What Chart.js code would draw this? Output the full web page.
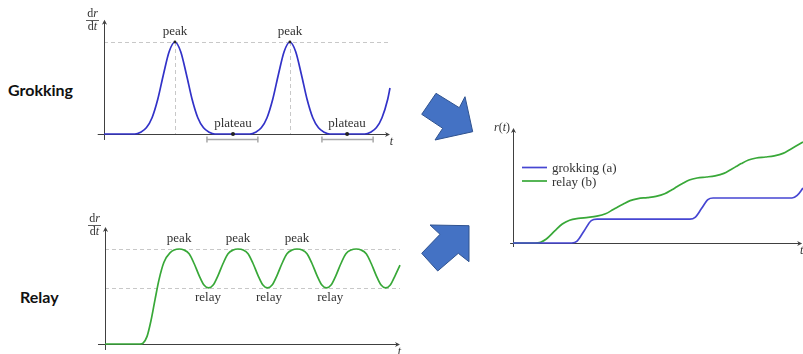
<!DOCTYPE html>
<html><head><meta charset="utf-8">
<script src="https://cdn.jsdelivr.net/npm/chart.js@4.4.1/dist/chart.umd.min.js"></script>
<style>
html,body{margin:0;padding:0;background:#fff;}
#wrap{position:relative;width:803px;height:354px;overflow:hidden;background:#fff;}
canvas{position:absolute;}
.side{position:absolute;font:700 16px Lato,'Open Sans',sans-serif;line-height:16px;color:#111;white-space:nowrap;}
svg{position:absolute;left:0;top:0;}
</style></head><body>
<div id="wrap">
<div class="side" style="left:8px;top:82px">Grokking</div>
<div class="side" style="left:20px;top:289px">Relay</div>
<canvas id="c1" width="410" height="180" style="left:0;top:0;width:410px;height:180px"></canvas>
<canvas id="c2" width="410" height="164" style="left:0;top:190px;width:410px;height:164px"></canvas>
<canvas id="c3" width="313" height="160" style="left:490px;top:110px;width:313px;height:160px"></canvas>
<svg width="803" height="354">
<polygon points="421.7,114.3 436,93.3 459.3,107.7 465,96.7 472.7,131.7 435,140 442.7,128.3" fill="#4472C4" stroke="#2F528F" stroke-width="1"/>
<polygon points="421.7,253.3 440,234.3 430,225 469,225.7 469,261.7 458.3,253.3 437.7,271" fill="#4472C4" stroke="#2F528F" stroke-width="1"/>
</svg>
</div>
<script>
// ---------- data ----------
// Grokking: dr/dt
const grokT = [0,1.08,1.28,1.48,1.68,1.88,2.08,2.28,2.48,2.68,2.88,3.08,3.28,3.48,3.68,3.88,5.10,5.30,5.50,5.70,5.90,6.10,6.30,6.50,6.70,6.90,7.10,7.30,7.50,7.70,7.90,9.12,9.32,9.52,9.72,9.92,10.0];
const grokV = [0,0,0.02,0.067,0.177,0.378,0.65,0.897,1,0.897,0.65,0.378,0.177,0.067,0.02,0,0,0.02,0.067,0.177,0.378,0.65,0.897,1,0.897,0.65,0.378,0.177,0.067,0.02,0,0,0.02,0.067,0.177,0.378,0.50];
const grokPeakT = [2.48, 6.50];
const plateauMidT = [4.51, 8.50];
const plateauStartT = [3.60, 7.62];
const plateauEndT = [5.38, 9.41];

// Relay: dr/dt
const relayT = [0,1.22,1.33,1.47,1.61,1.75,1.89,2.06,2.27,2.59,
  2.76,2.94,3.11,3.29,3.46,3.62,3.78,3.95,4.13,4.30,4.48,4.65,
  4.83,5.00,5.17,5.35,5.52,5.68,5.84,6.01,6.19,6.36,6.54,6.71,
  6.89,7.06,7.23,7.41,7.58,7.74,7.90,8.07,8.25,8.42,8.60,8.78,
  8.95,9.13,9.30,9.48,9.65,9.81,9.97,10.14,10.31];
const relayV = [0,0,0.01,0.08,0.25,0.47,0.68,0.86,0.96,1.00,
  0.99,0.95,0.85,0.72,0.62,0.59,0.62,0.72,0.85,0.95,0.99,1.00,
  0.99,0.95,0.85,0.72,0.62,0.59,0.62,0.72,0.85,0.95,0.99,1.00,
  0.99,0.95,0.85,0.72,0.62,0.59,0.62,0.72,0.85,0.95,0.99,1.00,
  0.99,0.95,0.85,0.72,0.62,0.59,0.62,0.72,0.83];
const relayLevel = 0.59;
const relayPeakLabelT = [2.59, 4.65, 6.71];
const relayLabelT = [3.60, 5.73, 7.87];

// r(t)
const cumGrokT = [0,2.03,2.20,2.45,2.70,2.90,6.10,6.28,6.50,6.72,6.90,9.62,9.80,10.0];
const cumGrokV = [0,0,0.08,0.60,1.12,1.19,1.19,1.28,1.72,2.17,2.25,2.25,2.38,2.75];
const cumRelayT = [0,0.76,0.95,1.15,1.45,1.70,1.95,2.25,2.59,
  2.89,3.19,3.44,3.61,3.79,4.04,4.31,4.63,
  4.93,5.23,5.48,5.65,5.83,6.08,6.35,6.67,
  6.97,7.27,7.52,7.69,7.87,8.12,8.39,8.71,
  9.01,9.31,9.56,9.73,10.0];
const cumRelayV = [0,0,0.04,0.20,0.62,0.95,1.14,1.23,1.28,
  1.34,1.46,1.66,1.80,1.94,2.12,2.22,2.27,
  2.33,2.46,2.66,2.81,2.96,3.15,3.25,3.30,
  3.36,3.48,3.68,3.82,3.97,4.15,4.25,4.30,
  4.36,4.48,4.68,4.82,5.05];
const seriesNames = ['grokking (a)', 'relay (b)'];

// ---------- helpers ----------
const BLUE = '#3232c8', BLUE2 = '#4646d2', GREEN = '#38a838';
const TXT = '#333', AX = '#404040', DASH = '#c8c8c8';
const SERIF = "'Liberation Serif','DejaVu Serif',serif";
function fnt(size, it){ return (it?'italic ':'') + size + 'px ' + SERIF; }
function pts(xs, ys){ return xs.map((x,i)=>({x:x, y:ys[i]})); }
function mixed(ctx, parts, cx, base, size, align){
  const w = parts.map(p=>{ctx.font=fnt(size,p[1]); return ctx.measureText(p[0]).width;});
  const tot = w.reduce((a,b)=>a+b,0);
  let x = align==='left'? cx : align==='right'? cx-tot : cx-tot/2;
  ctx.textAlign='left'; ctx.textBaseline='alphabetic'; ctx.fillStyle=TXT;
  parts.forEach((p,i)=>{ctx.font=fnt(size,p[1]); ctx.fillText(p[0], x, base); x+=w[i];});
  return tot;
}
function axes(chart, xa, xb, ya, yb){
  const ctx = chart.ctx, X = chart.scales.x, Y = chart.scales.y;
  const y0 = Math.round(Y.getPixelForValue(0))+0.5;
  const x0 = Math.round(X.getPixelForValue(0))+0.5;
  const xs = X.getPixelForValue(xa), xe = X.getPixelForValue(xb);
  const ys = Y.getPixelForValue(ya), ye = Y.getPixelForValue(yb);
  ctx.save();
  ctx.strokeStyle = AX; ctx.fillStyle = AX; ctx.lineWidth = 1; ctx.setLineDash([]);
  ctx.beginPath(); ctx.moveTo(xs, y0); ctx.lineTo(xe-2, y0); ctx.stroke();
  ctx.beginPath(); ctx.moveTo(x0, ys); ctx.lineTo(x0, ye+2); ctx.stroke();
  ctx.beginPath(); ctx.moveTo(xe, y0); ctx.lineTo(xe-5, y0-2.6); ctx.lineTo(xe-3.5, y0); ctx.lineTo(xe-5, y0+2.6); ctx.closePath(); ctx.fill();
  ctx.beginPath(); ctx.moveTo(x0, ye); ctx.lineTo(x0-2.6, ye+5); ctx.lineTo(x0, ye+3.5); ctx.lineTo(x0+2.6, ye+5); ctx.closePath(); ctx.fill();
  ctx.restore();
  return {x0, y0, xe, ye};
}
function dashH(chart, v, xa, xb){
  const ctx = chart.ctx, X = chart.scales.x, Y = chart.scales.y;
  const y = Math.round(Y.getPixelForValue(v))+0.5;
  ctx.save(); ctx.strokeStyle = DASH; ctx.lineWidth = 1; ctx.setLineDash([4,3]);
  ctx.beginPath(); ctx.moveTo(X.getPixelForValue(xa), y); ctx.lineTo(X.getPixelForValue(xb), y); ctx.stroke(); ctx.restore();
}
function dashV(chart, t, va, vb){
  const ctx = chart.ctx, X = chart.scales.x, Y = chart.scales.y;
  const x = Math.round(X.getPixelForValue(t))+0.5;
  ctx.save(); ctx.strokeStyle = DASH; ctx.lineWidth = 1; ctx.setLineDash([4,3]);
  ctx.beginPath(); ctx.moveTo(x, Y.getPixelForValue(va)); ctx.lineTo(x, Y.getPixelForValue(vb)); ctx.stroke(); ctx.restore();
}
function dr_dt(ctx, cx, lineY){
  mixed(ctx, [['d',false],['r',true]], cx, lineY-3, 12);
  ctx.save(); ctx.strokeStyle = TXT; ctx.lineWidth = 0.8;
  ctx.beginPath(); ctx.moveTo(cx-6.5, lineY+0.5); ctx.lineTo(cx+6.5, lineY+0.5); ctx.stroke(); ctx.restore();
  mixed(ctx, [['d',false],['t',true]], cx, lineY+10, 12);
}
function baseOpts(pad, xmin, xmax, ymin, ymax){
  return {
    responsive:false, animation:false, devicePixelRatio:1,
    layout:{padding:pad},
    plugins:{legend:{display:false}, tooltip:{enabled:false}, title:{display:false}},
    scales:{ x:{type:'linear', display:false, min:xmin, max:xmax}, y:{type:'linear', display:false, min:ymin, max:ymax} },
    elements:{point:{radius:0}}
  };
}
function ds(data, color, label){
  return {label:label, data:data, borderColor:color, borderWidth:1.7, cubicInterpolationMode:'monotone', pointRadius:0, fill:false, clip:false};
}

// ---------- chart 1: grokking ----------
new Chart(document.getElementById('c1'), {
  type:'line',
  data:{datasets:[ds(pts(grokT, grokV), BLUE, 'dr/dt')]},
  options: baseOpts({left:104, right:20, top:42, bottom:46}, 0, 10, 0, 1),
  plugins:[{
    id:'g1',
    beforeDatasetsDraw(chart){
      dashH(chart, 1, 0, 10);
      grokPeakT.forEach(t=>dashV(chart, t, 1, 0));
      axes(chart, -0.22, 10, -0.065, 1.243);
    },
    afterDatasetsDraw(chart){
      const ctx = chart.ctx, X = chart.scales.x, Y = chart.scales.y;
      const y0 = Y.getPixelForValue(0), y1 = Y.getPixelForValue(1);
      ctx.save();
      ctx.fillStyle = '#222';
      grokPeakT.forEach(t=>{ ctx.beginPath(); ctx.arc(X.getPixelForValue(t), y1, 1.4, 0, Math.PI*2); ctx.fill(); });
      plateauMidT.forEach(t=>{ ctx.beginPath(); ctx.arc(X.getPixelForValue(t), y0, 2, 0, Math.PI*2); ctx.fill(); });
      ctx.strokeStyle = '#a8a8a8'; ctx.lineWidth = 1.5;
      plateauStartT.forEach((s,i)=>{
        const a = X.getPixelForValue(s), b = X.getPixelForValue(plateauEndT[i]), yb = y0+5.5;
        ctx.beginPath(); ctx.moveTo(a, yb); ctx.lineTo(b, yb);
        ctx.moveTo(a, yb-3); ctx.lineTo(a, yb+3); ctx.moveTo(b, yb-3); ctx.lineTo(b, yb+3); ctx.stroke();
      });
      ctx.restore();
      grokPeakT.forEach(t=>mixed(ctx, [['peak',false]], X.getPixelForValue(t), y1-7.5, 13));
      plateauMidT.forEach(t=>mixed(ctx, [['plateau',false]], X.getPixelForValue(t), y0-7, 13));
      dr_dt(ctx, X.getPixelForValue(0)-11.5, 20);
      mixed(ctx, [['t',true]], X.getPixelForValue(10)+1.5, y0+10.5, 12);
    }
  }]
});

// ---------- chart 2: relay ----------
new Chart(document.getElementById('c2'), {
  type:'line',
  data:{datasets:[ds(pts(relayT, relayV), GREEN, 'dr/dt')]},
  options: baseOpts({left:105, right:10, top:59, bottom:10}, 0, 10.31, 0, 1),
  plugins:[{
    id:'g2',
    beforeDatasetsDraw(chart){
      dashH(chart, 1, 0, 10.31);
      dashH(chart, relayLevel, 0, 10.31);
      axes(chart, -0.245, 10.31, -0.063, 1.232);
    },
    afterDatasetsDraw(chart){
      const ctx = chart.ctx, X = chart.scales.x, Y = chart.scales.y;
      const y0 = Y.getPixelForValue(0), y1 = Y.getPixelForValue(1), yr = Y.getPixelForValue(relayLevel);
      relayPeakLabelT.forEach(t=>mixed(ctx, [['peak',false]], X.getPixelForValue(t), y1-7.5, 13));
      relayLabelT.forEach(t=>mixed(ctx, [['relay',false]], X.getPixelForValue(t), yr+13, 13));
      dr_dt(ctx, X.getPixelForValue(0)-10.5, 35);
      mixed(ctx, [['t',true]], X.getPixelForValue(10.31)-0.5, y0+11, 12);
    }
  }]
});

// ---------- chart 3: r(t) ----------
new Chart(document.getElementById('c3'), {
  type:'line',
  data:{datasets:[ds(pts(cumGrokT, cumGrokV), BLUE2, seriesNames[0]), ds(pts(cumRelayT, cumRelayV), GREEN, seriesNames[1])]},
  options: baseOpts({left:23, right:0, top:18, bottom:27}, 0, 10, 0, 5.75),
  plugins:[{
    id:'g3',
    beforeDatasetsDraw(chart){
      axes(chart, -0.1, 9.97, -0.2, 5.75);
    },
    afterDatasetsDraw(chart){
      const ctx = chart.ctx, X = chart.scales.x, Y = chart.scales.y;
      const x0 = X.getPixelForValue(0), y0 = Y.getPixelForValue(0), ytop = Y.getPixelForValue(5.75);
      mixed(ctx, [['r',true],['(',false],['t',true],[')',false]], x0-3, ytop+3, 12, 'right');
      mixed(ctx, [['t',true]], X.getPixelForValue(9.9), y0+11, 12, 'left');
      chart.data.datasets.forEach((d,i)=>{
        const ly = 57.5 + i*13.5;
        ctx.save(); ctx.strokeStyle = d.borderColor; ctx.lineWidth = 1.7;
        ctx.beginPath(); ctx.moveTo(x0+9, ly); ctx.lineTo(x0+34, ly); ctx.stroke(); ctx.restore();
        mixed(ctx, [[d.label,false]], x0+39, ly+4.5, 13, 'left');
      });
    }
  }]
});
</script>
</body></html>
